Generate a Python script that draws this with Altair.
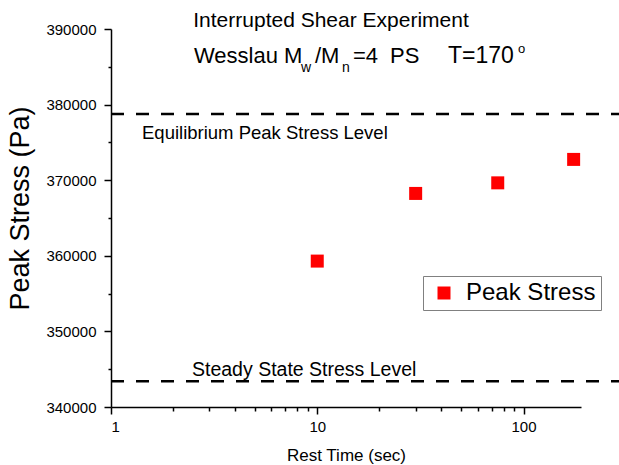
import altair as alt
import pandas as pd

# ---- data ----
rest_time = [10, 30, 75, 175]
peak_stress = [359300, 368250, 369650, 372750]
series_name = ["Peak Stress"] * 4

level_names = ["Equilibrium Peak Stress Level", "Steady State Stress Level"]
level_values = [378750, 343400]

x_major = [1, 10, 100]
x_minor = [2, 3, 4, 5, 6, 7, 8, 9, 20, 30, 40, 50, 60, 70, 80, 90]
y_major = [340000, 350000, 360000, 370000, 380000, 390000]
y_minor = [345000, 355000, 365000, 375000, 385000]

title_line1 = "Interrupted Shear Experiment"

FONT = "Liberation Sans"
W, H = 470, 378
PAD_L, PAD_T = 111, 29

pts = pd.DataFrame({"t": rest_time, "s": peak_stress, "series": series_name})
lv = pd.DataFrame({"name": level_names, "s": level_values})

xscale = alt.Scale(type="log", domain=[1, 190], nice=False)
yscale = alt.Scale(domain=[340000, 390000], nice=False, zero=False)

x_axis = alt.Axis(
    orient="bottom", values=x_major, format="d", ticks=True, tickSize=7,
    title="Rest Time (sec)",
    titleFontSize=17, titleFont=FONT, titleFontWeight="normal",
    titleBaseline="middle", titleY=48,
    labelFontSize=15, labelPadding=5, labelFont=FONT,
    grid=False,
)
x_axis_minor = alt.Axis(
    orient="bottom", values=x_minor, ticks=True, tickSize=4, labels=False, domain=False,
    title=None, grid=False,
)
y_axis = alt.Axis(
    orient="left", values=y_major, format="d", ticks=True, tickSize=7,
    title="Peak Stress (Pa)",
    titleFontSize=27, titleFont=FONT, titleFontWeight="normal",
    titleBaseline="middle", titleX=-91, titleY=179,
    labelFontSize=15, labelPadding=8, labelFont=FONT,
    grid=False,
)
y_axis_minor = alt.Axis(
    orient="left", values=y_minor, ticks=True, tickSize=3, labels=False, domain=False,
    title=None, grid=False,
)

points = alt.Chart(pts).mark_square(size=169, opacity=1).encode(
    x=alt.X("t:Q", scale=xscale, axis=x_axis),
    y=alt.Y("s:Q", scale=yscale, axis=y_axis),
    color=alt.Color(
        "series:N",
        scale=alt.Scale(range=["#ff0000"]),
        legend=alt.Legend(
            title=None, orient="none", legendX=312, legendY=247,
            strokeColor="#808080", fillColor="white", padding=5,
            symbolSize=169, symbolType="square", symbolOpacity=1,
            symbolOffset=4, labelOffset=10,
            labelFontSize=24, labelFont=FONT, labelColor="black",
        ),
    ),
)

# invisible copy of the points that only carries the minor-tick axes
minor = alt.Chart(pts).mark_square(size=1, opacity=0).encode(
    x=alt.X("t:Q", scale=xscale, axis=x_axis_minor),
    y=alt.Y("s:Q", scale=yscale, axis=y_axis_minor),
)

rules = alt.Chart(lv).mark_rule(
    color="black", strokeWidth=2.6, strokeDash=[13, 12]
).encode(
    y=alt.Y("s:Q", scale=yscale, axis=None),
    x=alt.value(0),
    x2=alt.value(619 - PAD_L),
)

def txt(s, x, y, size, align="left"):
    return alt.Chart(pd.DataFrame({"s": [s]})).mark_text(
        font=FONT, fontSize=size, align=align, baseline="alphabetic", color="black"
    ).encode(text="s:N", x=alt.value(x - PAD_L), y=alt.value(y - PAD_T))

texts = [
    txt(title_line1, 331, 27, 21, align="center"),
    txt("Wesslau M", 194, 63, 22),
    txt("w", 301, 72, 14),
    txt("/M", 315, 63, 22),
    txt("n", 342, 72, 14),
    txt("=4", 353, 63, 22),
    txt("PS", 390, 63, 22),
    txt("T=170", 448, 63, 23),
    txt("o", 518, 53, 13),
    txt(level_names[0], 142, 139, 18.5),
    txt(level_names[1], 192, 376, 19.5),
]

chart = alt.layer(rules, points, minor, *texts).resolve_axis(
    x="independent", y="independent"
).properties(
    width=W, height=H,
    autosize=alt.AutoSizeParams(type="none"),
    padding={"left": PAD_L, "top": PAD_T, "right": 619 - PAD_L - W, "bottom": 465 - PAD_T - H},
    background="white",
).configure_view(stroke=None).configure_axis(
    domainColor="black", domainWidth=1.5, tickColor="black", tickWidth=1.5,
    labelColor="black", titleColor="black",
)

chart.save("out.html", embed_options={"renderer": "svg", "actions": False})
